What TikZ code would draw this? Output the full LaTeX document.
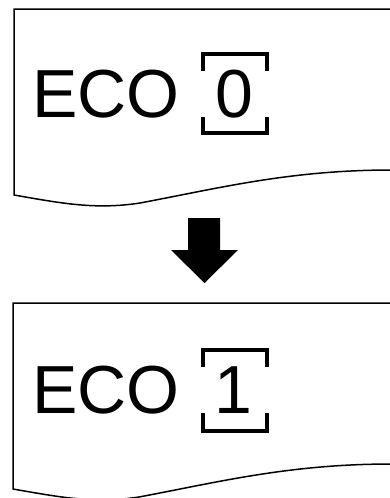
\documentclass[tikz,border=0pt]{standalone}
\usepackage{fontspec}
\setmainfont{Liberation Sans}

\begin{document}
\begin{tikzpicture}[x=1pt, y=-1pt]
        \useasboundingbox
            (0,0) rectangle (390,498);
        % upper sheet
        \draw[line width = 1.5pt]
            (392,9) -- (14,9) -- (14,195)
            .. controls (60,203) and (95,210) .. (140,203)
            .. controls (220,188) and (290,170) .. (392,170);
        \node[anchor=base west, inner sep=0, font=\fontsize{68}{68}\selectfont]
            (eco0) at (32,117) {ECO};
        \node[anchor=base, inner sep=0, font=\fontsize{68}{68}\selectfont]
            (digit0) at (234,117) {0};
        \draw[line width = 4pt]
            (203,71) -- (203,54) -- (267,54) -- (267,71);
        \draw[line width = 4pt]
            (203,117) -- (203,133) -- (267,133) -- (267,117);
        % block arrow
        \fill
            (188,218) -- (220,218) -- (220,250) -- (238,250) -- (204.5,283)
            -- (171,250) -- (188,250) -- cycle;
        % lower sheet
        \draw[line width = 1.5pt]
            (392,303) -- (13,303) -- (13,489)
            .. controls (59,497) and (94,504) .. (139,497)
            .. controls (219,482) and (289,464) .. (392,464);
        \node[anchor=base west, inner sep=0, font=\fontsize{68}{68}\selectfont]
            (eco1) at (32,413) {ECO};
        \node[anchor=base, inner sep=0, font=\fontsize{68}{68}\selectfont]
            (digit1) at (233,413) {1};
        \draw[line width = 4pt]
            (203,367) -- (203,350) -- (267,350) -- (267,367);
        \draw[line width = 4pt]
            (203,413) -- (203,431) -- (267,431) -- (267,413);
\end{tikzpicture}
\end{document}
